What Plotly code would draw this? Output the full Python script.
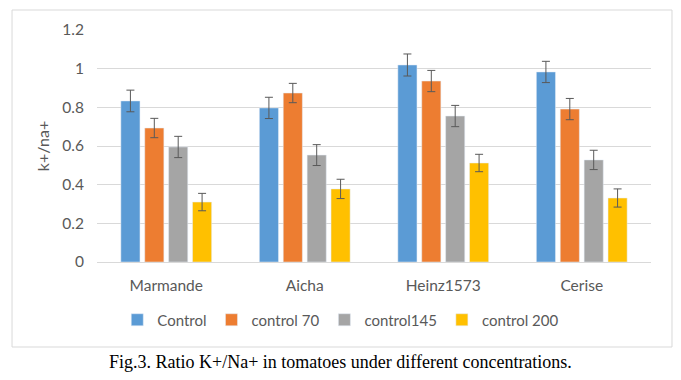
import plotly.graph_objects as go

categories = ["Marmande", "Aicha", "Heinz1573", "Cerise"]
series_names = ["Control", "control 70", "control145", "control 200"]
control = [0.833, 0.797, 1.019, 0.983]
control70 = [0.693, 0.874, 0.936, 0.791]
control145 = [0.595, 0.553, 0.755, 0.528]
control200 = [0.310, 0.378, 0.512, 0.331]
err_control = [0.056, 0.055, 0.057, 0.055]
err_control70 = [0.050, 0.050, 0.055, 0.055]
err_control145 = [0.055, 0.054, 0.055, 0.050]
err_control200 = [0.045, 0.050, 0.045, 0.047]
y_ticks = [0, 0.2, 0.4, 0.6, 0.8, 1, 1.2]
y_tick_labels = ["0", "0.2", "0.4", "0.6", "0.8", "1", "1.2"]

colors = ["#5B9BD5", "#ED7D31", "#A5A5A5", "#FFC000"]
values = [control, control70, control145, control200]
errors = [err_control, err_control70, err_control145, err_control200]

fig = go.Figure()
for name, vals, errs, col in zip(series_names, values, errors, colors):
    fig.add_trace(go.Bar(
        x=categories, y=vals, name=name, marker_color=col,
        error_y=dict(type="data", array=errs, visible=True,
                     color="#595959", thickness=1, width=4),
    ))

font_family = "Lato, Carlito, Liberation Sans, sans-serif"
fig.update_layout(
    width=673, height=372,
    margin=dict(l=89, r=30, t=22, b=118),
    paper_bgcolor="white", plot_bgcolor="white",
    barmode="group", bargap=0.31, bargroupgap=0.2,
    font=dict(family=font_family, size=15, color="#595959"),
    legend=dict(orientation="h", x=0.44, xanchor="center", y=-0.25, yanchor="middle",
                font=dict(size=15, color="#595959"), itemwidth=30,
                traceorder="normal"),
    showlegend=True,
)
fig.update_yaxes(range=[0, 1.2], tickvals=y_ticks, ticktext=y_tick_labels,
                 showgrid=True, gridcolor="#D9D9D9", gridwidth=1,
                 zeroline=True, zerolinecolor="#D9D9D9", zerolinewidth=1,
                 showline=False, ticklabelstandoff=12,
                 tickfont=dict(size=15.5, color="#595959"),
                 title=dict(text="k+/na+", font=dict(size=16, color="#595959"), standoff=8))
fig.update_xaxes(showline=False, showgrid=False, ticks="",
                 ticklabelstandoff=12,
                 tickfont=dict(size=15.5, color="#595959"))

# chart border
fig.add_shape(type="rect", xref="paper", yref="paper",
              x0=-0.1534, x1=1.0379, y0=-0.3664, y1=1.0862,
              line=dict(color="#D9D9D9", width=1), fillcolor="rgba(0,0,0,0)", layer="below")
# caption
fig.add_annotation(text="Fig.3. Ratio K+/Na+ in tomatoes under different concentrations.",
                   xref="paper", yref="paper", x=0.44, y=-0.431,
                   xanchor="center", yanchor="middle", showarrow=False,
                   font=dict(family="Liberation Serif, Times New Roman, serif", size=18, color="black"))

fig.write_html("out.html")
